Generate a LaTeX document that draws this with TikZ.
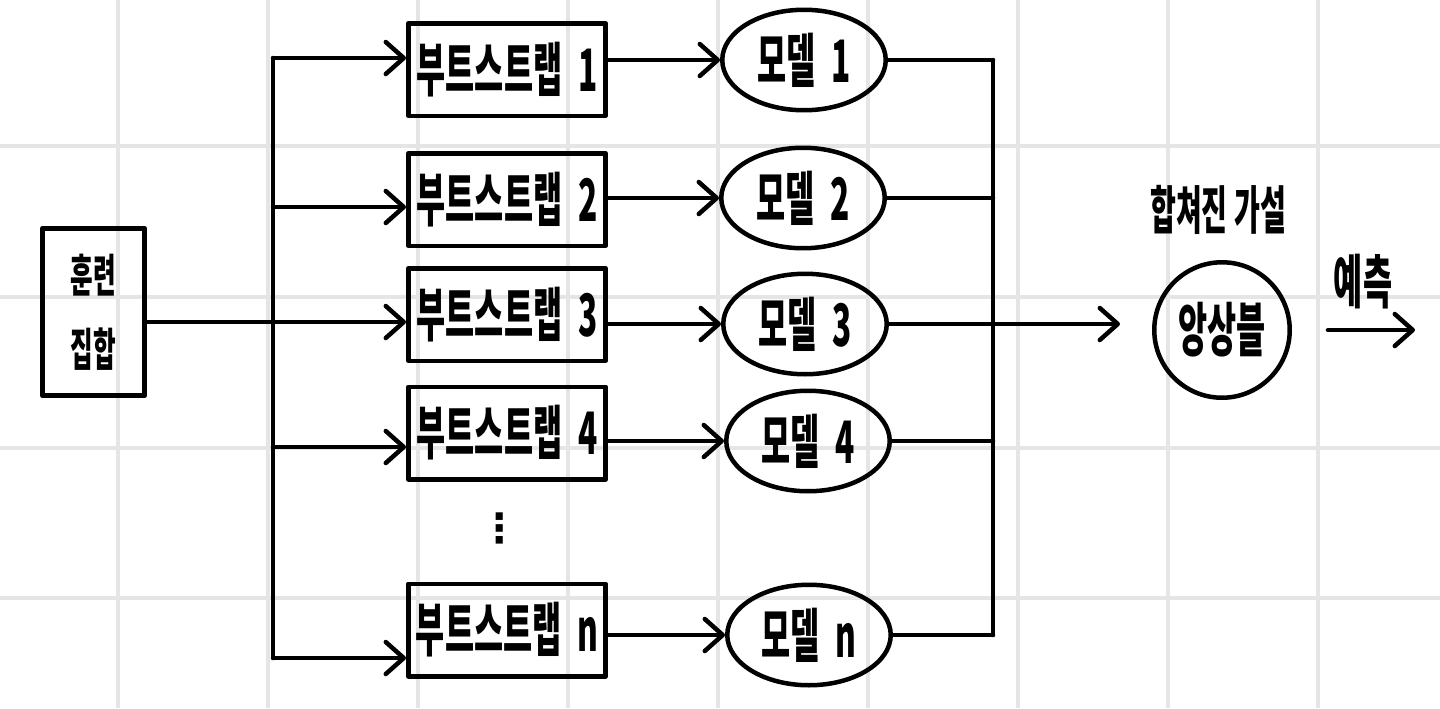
\documentclass[tikz,border=0pt]{standalone}
\usepackage{fontspec}
\usepackage{graphicx}
\usetikzlibrary{shapes.geometric,arrows.meta}
\newfontfamily\kr{Noto Sans CJK KR}
\newfontfamily\dejavu{DejaVu Sans}
\definecolor{gridgray}{RGB}{229,229,229}
\newcommand{\hw}[2][18]{{\kr\bfseries\fontsize{#1}{#1}\selectfont\scalebox{1}[1.85]{#2}}}

\begin{document}
\begin{tikzpicture}[x=0.02cm, y=-0.02cm, line width=0.09cm, line cap=round, line join=round,
  flow/.style={-{Straight Barb[length=0.36cm,width=0.64cm,round]}},
  bootbox/.style={draw, minimum width=3.95cm, minimum height=1.85cm, inner sep=0pt},
  model/.style={draw, ellipse, minimum width=3.27cm, minimum height=2.01cm, inner sep=0pt},
  gridline/.style={draw=gridgray, line width=0.08cm, line cap=butt}]
  \useasboundingbox (0,0) rectangle (1440,708);
  \fill[white] (0,0) rectangle (1440,708);
  \foreach \gx in {118,268,...,1318} \draw[gridline] (\gx,0) -- (\gx,708);
  \foreach \gy in {146,297,448,598} \draw[gridline] (0,\gy) -- (1440,\gy);

  \node[draw, minimum width=2.05cm, minimum height=3.35cm, inner sep=0pt, align=center] (train) at (93.5,312)
    {\hw[14]{훈련}\\[17pt]\hw[14]{집합}};
  \node[bootbox] (boot1) at (507,69.5) {\hw{부트스트랩\enspace 1}};
  \node[bootbox] (boot2) at (507,199.5) {\hw{부트스트랩\enspace 2}};
  \node[bootbox] (boot3) at (507,314.5) {\hw{부트스트랩\enspace 3}};
  \node[bootbox] (boot4) at (507,433) {\hw{부트스트랩\enspace 4}};
  \node[bootbox] (bootn) at (507,630) {\hw{부트스트랩\enspace n}};
  \node (dots) at (500,528) {\dejavu\bfseries\fontsize{23}{23}\selectfont ⋮};
  \node[model] (m1) at (804,60) {\hw{모델\enspace 1}};
  \node[model] (m2) at (803,198) {\hw{모델\enspace 2}};
  \node[model] (m3) at (805,324) {\hw{모델\enspace 3}};
  \node[model] (m4) at (808,441) {\hw{모델\enspace 4}};
  \node[model] (mn) at (809,635) {\hw{모델\enspace n}};
  \node[circle, draw, minimum size=2.71cm, inner sep=0pt] (ens) at (1222,330) {\hw{앙상블}};
  \node (hyp) at (1218,210) {\hw[16]{합쳐진 가설}};
  \node (pred) at (1363,282) {\hw{예측}};

  \coordinate (b1) at (273,58);
  \coordinate (b2) at (273,207);
  \coordinate (b3) at (273,322);
  \coordinate (b4) at (273,447);
  \coordinate (bn) at (273,658);
  \coordinate (ctop) at (993,60);
  \coordinate (cbot) at (993,635);
  \coordinate (out) at (1415,330);

  \draw (b1) -- (bn) (ctop) -- (cbot);
  \path[flow]
    (train.east |- b3) edge (b3 -| boot3.west)
    (b1) edge (b1 -| boot1.west) (b2) edge (b2 -| boot2.west)
    (b4) edge (b4 -| boot4.west) (bn) edge (bn -| bootn.west);
  \path[flow]
    (boot1.east |- m1.west) edge (m1.west) (boot2.east |- m2.west) edge (m2.west)
    (boot3.east |- m3.west) edge (m3.west) (boot4.east |- m4.west) edge (m4.west)
    (bootn.east |- mn.west) edge (mn.west);
  \path[draw]
    (m1.east) -- (m1.east -| ctop) (m2.east) -- (m2.east -| ctop)
    (m4.east) -- (m4.east -| ctop) (mn.east) -- (mn.east -| ctop);
  \draw[flow, shorten >=0.64cm] (m3.east) -- (ens.west |- m3.east);
  \draw[flow, shorten <=0.72cm] (ens.east) -- (out);
\end{tikzpicture}
\end{document}
